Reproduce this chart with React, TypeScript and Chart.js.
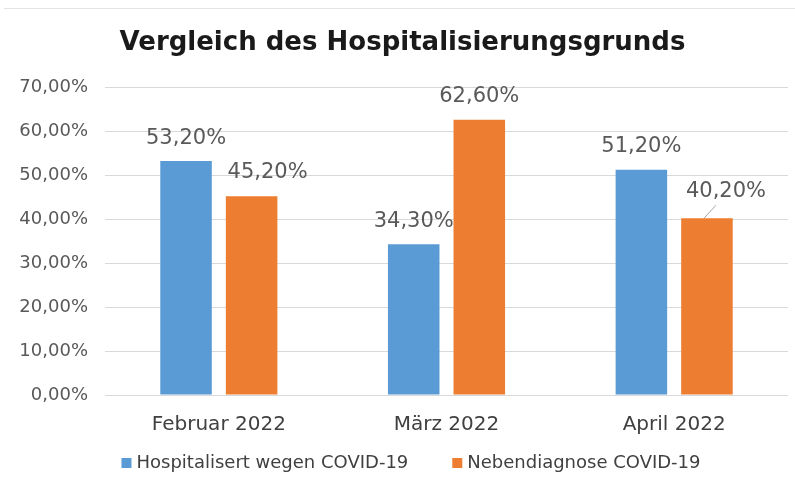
import React, { useEffect, useRef } from "react";
import { Chart, registerables } from "chart.js";

Chart.register(...registerables);

const titleText = "Vergleich des Hospitalisierungsgrunds";
const categories = ["Februar 2022", "März 2022", "April 2022"];
const seriesNames = ["Hospitalisert wegen COVID-19", "Nebendiagnose COVID-19"];
const hospitalisiert = [53.2, 34.3, 51.2];
const nebendiagnose = [45.2, 62.6, 40.2];
const yMin = 0;
const yMax = 70;
const yStep = 10;
const seriesColors = ["#5B9BD5", "#ED7D31"];

const fmt = (v: number) => v.toFixed(2).replace(".", ",") + "%";

const FONT = "'DejaVu Sans', Verdana, sans-serif";

// label placement tweaks (dataset-index, point-index) -> [dx, dy], plus leader line flag
const labelTweaks: Record<string, { dx: number; dy: number; leader?: boolean }> = {
  "1-0": { dx: 16, dy: -1 },
  "1-2": { dx: 19, dy: -4, leader: true },
};

const dataLabelPlugin = {
  id: "dataLabels",
  afterDatasetsDraw(chart: any) {
    const ctx = chart.ctx;
    ctx.save();
    ctx.font = `21px ${FONT}`;
    ctx.fillStyle = "#595959";
    ctx.textAlign = "center";
    ctx.textBaseline = "middle";
    chart.data.datasets.forEach((ds: any, i: number) => {
      const meta = chart.getDatasetMeta(i);
      meta.data.forEach((el: any, j: number) => {
        const t = labelTweaks[`${i}-${j}`] || { dx: 0, dy: 0 };
        const x = el.x + t.dx;
        const y = el.y - 23 + t.dy;
        if (t.leader) {
          ctx.strokeStyle = "#a6a6a6";
          ctx.lineWidth = 1;
          ctx.beginPath();
          ctx.moveTo(el.x - 3, el.y);
          ctx.lineTo(el.x + 9, y + 14);
          ctx.stroke();
        }
        ctx.fillText(fmt(ds.data[j]), x, y);
      });
    });
    ctx.restore();
  },
};

const customLegendPlugin = {
  id: "customLegend",
  afterDraw(chart: any) {
    const ctx = chart.ctx;
    ctx.save();
    ctx.font = `18px ${FONT}`;
    ctx.textBaseline = "middle";
    ctx.textAlign = "left";
    const box = 10;
    const gapText = 5;
    const gapItem = 44;
    const widths = seriesNames.map((n) => ctx.measureText(n).width);
    const total = widths.reduce((a, w) => a + box + gapText + w, 0) + gapItem * (seriesNames.length - 1);
    let x = 411 - total / 2;
    const y = 463;
    seriesNames.forEach((n, i) => {
      ctx.fillStyle = seriesColors[i];
      ctx.fillRect(x, y - box / 2, box, box);
      ctx.fillStyle = "#404040";
      ctx.fillText(n, x + box + gapText, y);
      x += box + gapText + widths[i] + gapItem;
    });
    // faint frame line at top
    ctx.strokeStyle = "#e3e3e3";
    ctx.lineWidth = 1;
    ctx.beginPath();
    ctx.moveTo(4, 8.5);
    ctx.lineTo(chart.width, 8.5);
    ctx.stroke();
    ctx.restore();
  },
};

export default function App() {
  const ref = useRef<HTMLCanvasElement | null>(null);
  useEffect(() => {
    if (!ref.current) return;
    const chart = new Chart(ref.current, {
      type: "bar",
      data: {
        labels: categories,
        datasets: [
          {
            label: seriesNames[0],
            data: hospitalisiert,
            backgroundColor: seriesColors[0],
            categoryPercentage: 0.576,
            barPercentage: 0.786,
          },
          {
            label: seriesNames[1],
            data: nebendiagnose,
            backgroundColor: seriesColors[1],
            categoryPercentage: 0.576,
            barPercentage: 0.786,
          },
        ],
      },
      options: {
        animation: false,
        responsive: false,
        layout: { padding: { left: 17, right: 7, top: 0, bottom: 39 } },
        plugins: {
          legend: { display: false },
          tooltip: { enabled: false },
          title: {
            display: true,
            text: titleText,
            color: "#1a1a1a",
            font: { family: FONT, size: 26, weight: "bold" },
            padding: { top: 28, bottom: 28 },
          },
        },
        scales: {
          x: {
            grid: { display: false },
            border: { display: false },
            ticks: {
              color: "#404040",
              font: { family: FONT, size: 20 },
              padding: 10,
              maxRotation: 0,
            },
          },
          y: {
            min: yMin,
            max: yMax,
            grid: { color: "#d9d9d9", drawTicks: false, lineWidth: 1 },
            border: { display: false },
            afterFit: (s: any) => {
              s.width = 88;
            },
            ticks: {
              stepSize: yStep,
              color: "#595959",
              padding: 17,
              font: { family: FONT, size: 18 },
              callback: (v: any) => fmt(Number(v)),
            },
          },
        },
      },
      plugins: [dataLabelPlugin, customLegendPlugin],
    });
    return () => chart.destroy();
  }, []);
  return (
    <div style={{ position: "fixed", left: 0, top: 0, width: 795, height: 486, background: "#fff" }}>
      <canvas ref={ref} width={795} height={486} style={{ width: 795, height: 486 }} />
    </div>
  );
}
